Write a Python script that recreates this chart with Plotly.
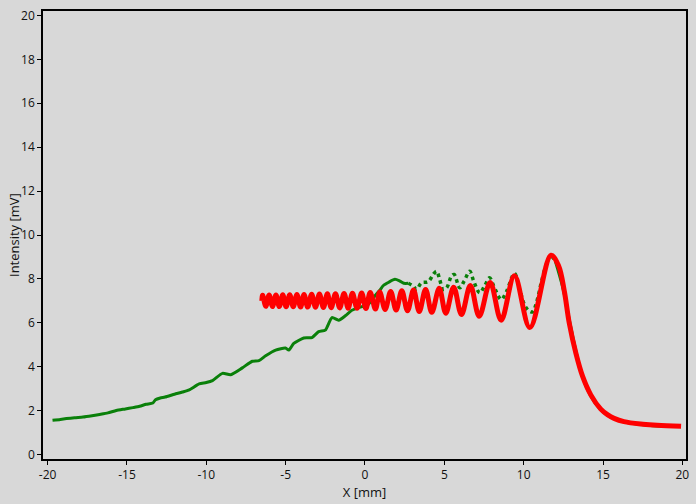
import numpy as np
import plotly.graph_objects as go

# ---- data ----
# red: calculated Fresnel edge pattern (extrema + descending tail)
red_x = [-6.50, -6.45, -6.25, -6.04, -5.83, -5.61, -5.40, -5.18, -4.97, -4.74, -4.52, -4.29,
         -4.06, -3.84, -3.61, -3.36, -3.12, -2.87, -2.62, -2.37, -2.13, -1.86, -1.59, -1.32,
         -1.06, -0.79, -0.50, -0.21, 0.06, 0.33, 0.66, 0.93, 1.27, 1.62, 1.96, 2.32, 2.68,
         3.06, 3.42, 3.82, 4.21, 4.68, 5.09, 5.59, 6.08, 6.64, 7.20, 7.89, 8.58, 9.42, 10.39,
         11.72, 12.20, 12.56, 12.87, 13.29, 13.71, 14.23, 14.86, 15.28, 15.70, 16.32, 17.37,
         18.41, 19.92]
red_y = [7.00, 7.26, 6.75, 7.27, 6.74, 7.27, 6.74, 7.28, 6.73, 7.28, 6.73, 7.29,
         6.72, 7.29, 6.72, 7.30, 6.71, 7.31, 6.70, 7.32, 6.69, 7.33, 6.68, 7.34,
         6.67, 7.35, 6.66, 7.36, 6.65, 7.38, 6.63, 7.40, 6.61, 7.43, 6.58, 7.46, 6.55,
         7.49, 6.52, 7.52, 6.48, 7.57, 6.44, 7.62, 6.38, 7.70, 6.30, 7.84, 6.12, 8.14, 5.79,
         9.08, 8.60, 7.45, 6.00, 4.62, 3.57, 2.72, 2.07, 1.82, 1.65, 1.50, 1.39,
         1.34, 1.29]

# green: measured intensity
green_x = [-19.69, -19.2, -18.81, -18.3, -17.77, -17.2, -16.72, -16.2, -15.67, -15.1, -14.63,
           -14.2, -13.79, -13.37, -13.2, -12.9, -12.6, -12.0, -11.5, -11.07, -10.45, -10.0,
           -9.61, -8.98, -8.46, -7.73, -7.10, -6.68, -6.26, -5.63, -5.01, -4.80, -4.49, -3.86,
           -3.34, -2.92, -2.50, -2.08, -1.66, -1.24, -0.83, -0.41, 0.22, 0.53, 0.95, 1.16,
           1.50, 1.89, 2.20, 2.45, 2.73, 3.04, 3.25, 3.56, 3.98, 4.30, 4.51, 4.70, 4.92, 5.15,
           5.45, 5.62, 5.97, 6.25, 6.60, 6.85, 7.23, 7.55, 7.85, 8.10, 8.58, 8.90, 9.42, 9.75,
           10.10, 10.36, 10.57, 10.80, 11.10, 11.40, 11.70, 12.00, 12.50, 13.00, 13.50, 14.00,
           14.50, 15.00, 15.50, 16.00, 17.00, 18.00, 19.00, 19.90]
green_y = [1.56, 1.60, 1.64, 1.68, 1.71, 1.77, 1.83, 1.90, 2.01, 2.08, 2.14,
           2.20, 2.29, 2.35, 2.50, 2.58, 2.62, 2.75, 2.85, 2.95, 3.22, 3.28,
           3.37, 3.70, 3.64, 3.95, 4.25, 4.28, 4.50, 4.76, 4.85, 4.76, 5.06, 5.31,
           5.33, 5.60, 5.67, 6.24, 6.12, 6.32, 6.57, 6.69, 6.85, 7.14, 7.50, 7.70,
           7.85, 7.98, 7.90, 7.80, 7.80, 7.67, 7.52, 7.82, 7.87, 8.20, 8.35, 8.00, 7.52, 7.60,
           8.13, 8.20, 7.60, 7.90, 8.35, 7.90, 7.37, 7.70, 8.05, 7.70, 7.07, 7.40, 8.25, 7.50,
           6.75, 6.54, 6.50, 6.90, 7.80, 8.60, 9.05, 8.80, 7.50, 5.70, 4.10, 3.00,
           2.35, 1.95, 1.70, 1.55, 1.40, 1.33, 1.30, 1.28]

x_ticks = [-20, -15, -10, -5, 0, 5, 10, 15, 20]
y_ticks = [0, 2, 4, 6, 8, 10, 12, 14, 16, 18, 20]
x_title = "X [mm]"
y_title = "Intensity [mV]"

gx = np.array(green_x)
gy = np.array(green_y)
seg1 = gx <= 2.73
seg2 = (gx >= 2.73) & (gx <= 12.0)
seg3 = gx >= 12.0

GREEN = "#0a800a"
fig = go.Figure()
fig.add_trace(go.Scatter(x=gx[seg1], y=gy[seg1], mode="lines",
                         line=dict(color=GREEN, width=3, shape="spline", smoothing=0.6),
                         hoverinfo="skip"))
fig.add_trace(go.Scatter(x=gx[seg2], y=gy[seg2], mode="lines",
                         line=dict(color=GREEN, width=3.5, dash="dot", shape="spline"),
                         hoverinfo="skip"))
fig.add_trace(go.Scatter(x=gx[seg3], y=gy[seg3], mode="lines",
                         line=dict(color=GREEN, width=3, shape="spline"), hoverinfo="skip"))
fig.add_trace(go.Scatter(x=red_x, y=red_y, mode="lines",
                         line=dict(color="#ff0000", width=5, shape="spline", smoothing=1.0),
                         hoverinfo="skip"))

BG = "#d8d8d8"
fig.update_layout(
    width=696, height=504,
    margin=dict(l=43, r=7, t=8, b=45),
    paper_bgcolor=BG, plot_bgcolor=BG,
    showlegend=False,
    font=dict(family="Open Sans, Noto Sans, sans-serif", size=12, color="#111111"),
    xaxis=dict(range=[-20.29, 20.23], tickvals=x_ticks, ticktext=[str(v) for v in x_ticks],
               showgrid=False, zeroline=False, showline=True, linecolor="black", linewidth=1.5,
               mirror=True, ticks="outside", ticklen=4, tickcolor="black",
               title=dict(text=x_title, standoff=4, font=dict(size=13))),
    yaxis=dict(range=[-0.2, 20.2], tickvals=y_ticks, ticktext=[str(v) for v in y_ticks],
               showgrid=False, zeroline=False, showline=True, linecolor="black", linewidth=1.5,
               mirror=True, ticks="outside", ticklen=4, tickcolor="black"),
    annotations=[dict(text=y_title, xref="paper", yref="paper", x=0, y=0.5,
                      xanchor="center", yanchor="middle", xshift=-29, textangle=-90,
                      showarrow=False, font=dict(size=13))],
)
fig.write_html(
    "out.html",
    config={"displayModeBar": False},
    post_script="document.body.style.margin='0';document.body.style.padding='0';"
                "document.body.style.background='#d8d8d8';"
                "document.body.style.overflow='hidden';",
)
